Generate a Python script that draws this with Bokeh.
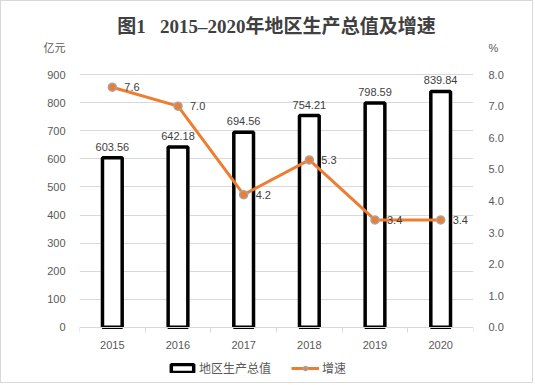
from bokeh.plotting import figure
from bokeh.models import (Range1d, LinearAxis, FixedTicker, PrintfTickFormatter,
                          Legend, LegendItem, Title, ColumnDataSource, InlineStyleSheet)
from bokeh.core.properties import value
from bokeh.embed import file_html
from bokeh.resources import INLINE

years = ["2015", "2016", "2017", "2018", "2019", "2020"]
gdp = [603.56, 642.18, 694.56, 754.21, 798.59, 839.84]
growth = [7.6, 7.0, 4.2, 5.3, 3.4, 3.4]
left_ticks = [0, 100, 200, 300, 400, 500, 600, 700, 800, 900]
right_ticks = [0, 1, 2, 3, 4, 5, 6, 7, 8]
title_text = "图1\u00a0\u00a0\u00a02015–2020年地区生产总值及增速"
left_unit = "亿元"
right_unit = "%"
bar_name = "地区生产总值"
line_name = "增速"

LEFT_MIN = -200.0          # room below the x axis for the legend
LEFT_MAX = 1000.0          # room above 900 for unit labels
RATIO = 900.0 / 8.0        # left units per right unit (900 <-> 8.0)
UNIT_POS = 996.0           # where the unit labels sit, left-axis units

xs = list(range(len(years)))
src = ColumnDataSource(dict(
    x=xs, gdp=gdp, growth=growth,
    gdp_txt=[f"{v:.2f}" for v in gdp],
    gr_txt=[f"{v:.1f}" for v in growth],
))

FONT = "'Liberation Sans', 'Noto Sans CJK SC', sans-serif"
GRAY = "#595959"
GRID = "#D9D9D9"

p = figure(width=533, height=383, output_backend="svg", toolbar_location=None,
           x_range=Range1d(-0.5, len(years) - 0.5), y_range=Range1d(LEFT_MIN, LEFT_MAX),
           x_axis_location=None, y_axis_location=None)
p.min_border_left = 78
p.min_border_right = 61
p.min_border_top = 45
p.min_border_bottom = 1
p.outline_line_color = None
p.background_fill_color = "white"
p.border_fill_color = "white"
p.stylesheets = [InlineStyleSheet(css=":host { border: 1px solid #D9D9D9; }")]

p.extra_y_ranges = {"pct": Range1d(LEFT_MIN / RATIO, LEFT_MAX / RATIO)}

# left axis (unit label sits above the 900 tick)
ly = LinearAxis(ticker=FixedTicker(ticks=left_ticks + [UNIT_POS], minor_ticks=[]))
ly.major_label_overrides = {UNIT_POS: left_unit}
ly.axis_line_color = None
ly.major_tick_line_color = None
ly.minor_tick_line_color = None
ly.major_label_standoff = 8
ly.major_label_text_font = FONT
ly.major_label_text_font_size = "11px"
ly.major_label_text_color = GRAY
p.add_layout(ly, "left")

# right axis
ry = LinearAxis(y_range_name="pct",
                ticker=FixedTicker(ticks=right_ticks + [UNIT_POS / RATIO], minor_ticks=[]),
                formatter=PrintfTickFormatter(format="%.1f"))
ry.major_label_overrides = {UNIT_POS / RATIO: right_unit}
ry.axis_line_color = None
ry.major_tick_line_color = None
ry.minor_tick_line_color = None
ry.major_label_standoff = 9
ry.major_label_text_font = FONT
ry.major_label_text_font_size = "11px"
ry.major_label_text_color = GRAY
p.add_layout(ry, "right")

# bottom axis drawn at y = 0: labels at category centres, ticks at boundaries
bx = LinearAxis(ticker=FixedTicker(ticks=xs, minor_ticks=[i - 0.5 for i in range(len(years) + 1)]),
                fixed_location=0)
bx.major_label_overrides = {i: y for i, y in zip(xs, years)}
bx.axis_line_color = GRID
bx.axis_line_width = 1
bx.major_tick_line_color = None
bx.major_tick_out = 0
bx.major_tick_in = 0
bx.minor_tick_line_color = GRID
bx.minor_tick_out = 5
bx.minor_tick_in = 0
bx.major_label_standoff = 9
bx.major_label_text_font = FONT
bx.major_label_text_font_size = "11px"
bx.major_label_text_color = GRAY
p.add_layout(bx, "below")

p.xgrid.visible = False
p.ygrid.ticker = FixedTicker(ticks=left_ticks[1:], minor_ticks=[])
p.ygrid.grid_line_color = GRID

bars = p.vbar(x="x", top="gdp", bottom=0, width=0.3, source=src, fill_color="white",
              line_color="black", line_width=3.5)
ln = p.line(x="x", y="growth", source=src, y_range_name="pct",
            line_color="#ED7D31", line_width=3)
pts = p.scatter(x="x", y="growth", source=src, y_range_name="pct", size=8,
                fill_color="#ED7D31", line_color="#A5A5A5", line_width=1.5)

p.text(x="x", y="gdp", text="gdp_txt", source=src, text_align="center",
       text_baseline="bottom", y_offset=-7, text_font=value(FONT),
       text_font_size="11px", text_color="#404040")
p.text(x="x", y="growth", text="gr_txt", source=src, y_range_name="pct",
       text_align="left", text_baseline="middle", x_offset=12,
       text_font=value(FONT), text_font_size="11px", text_color="#404040")

title = Title(text=title_text, align="center", offset=-9, standoff=20,
              text_font="'Liberation Serif', 'Noto Sans CJK SC', serif",
              text_font_style="bold", text_font_size="19px", text_color="#404040")
p.add_layout(title, "above")

legend = Legend(items=[LegendItem(label=bar_name, renderers=[bars]),
                       LegendItem(label=line_name, renderers=[ln, pts])],
                orientation="horizontal", location=(89, 7),
                glyph_width=28, glyph_height=10, label_standoff=3, spacing=20,
                padding=2, margin=0, border_line_color=None,
                background_fill_alpha=0, label_text_font=FONT,
                label_text_font_size="12px", label_text_color=GRAY)
p.add_layout(legend, "center")

open("out.html", "w").write(file_html(p, INLINE))
